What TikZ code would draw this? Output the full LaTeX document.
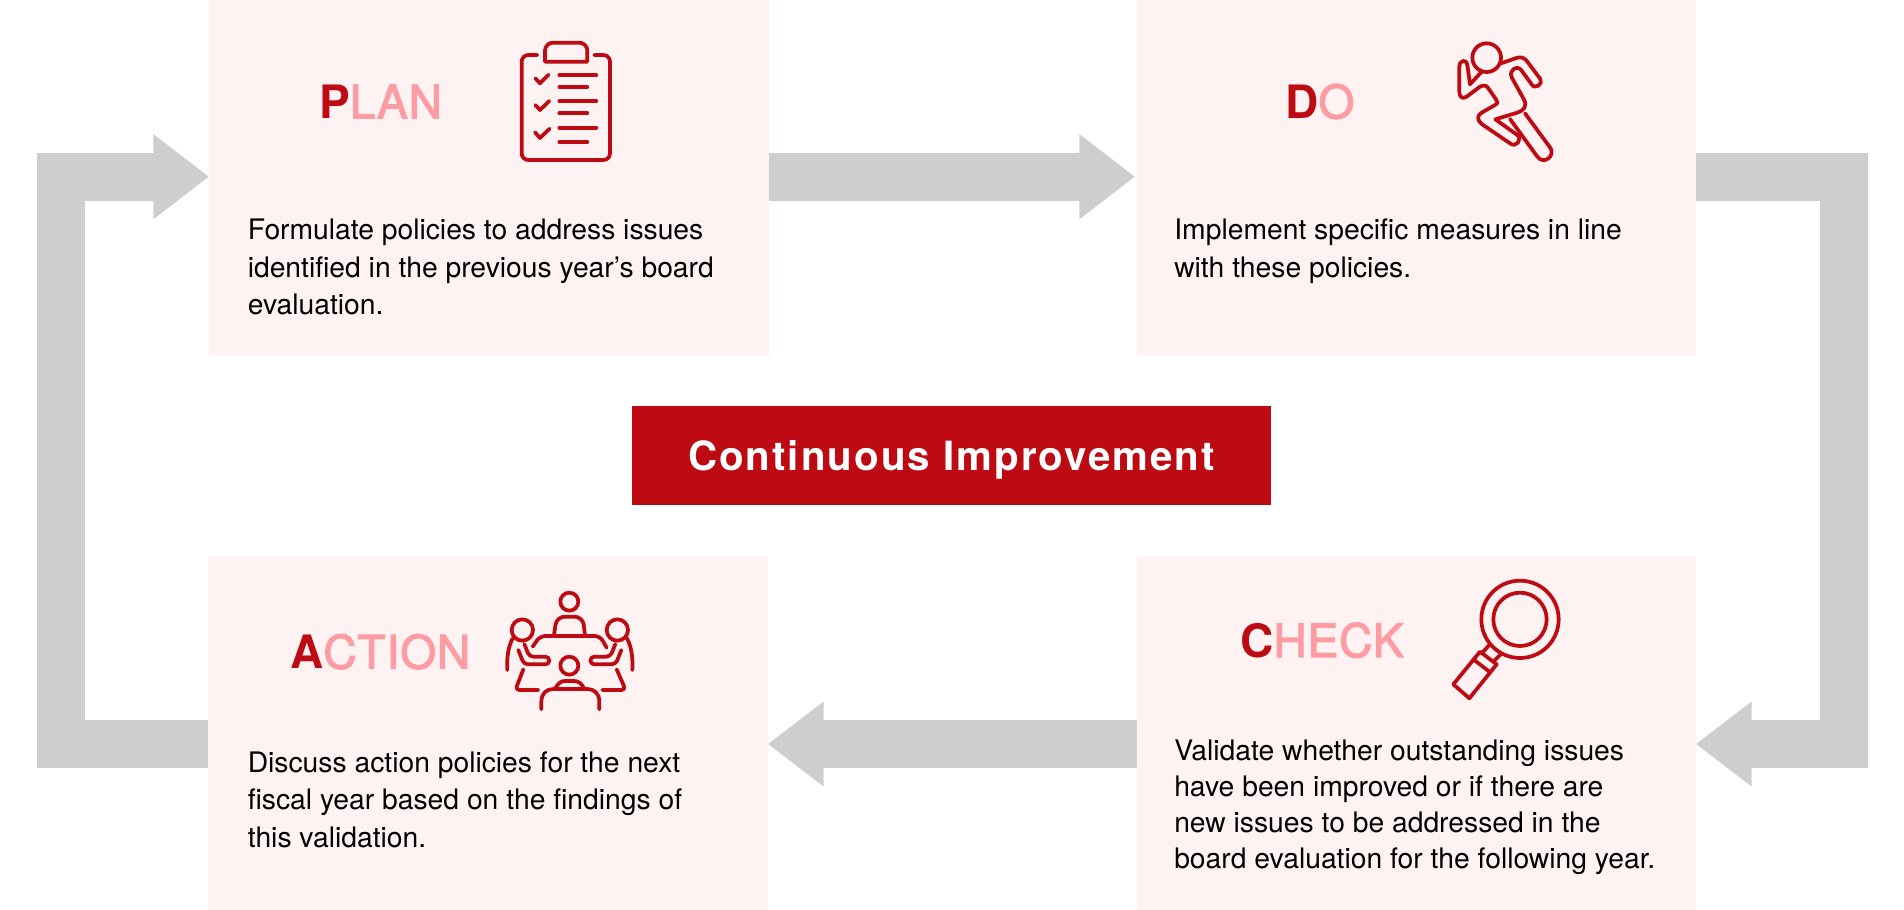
\documentclass[tikz,border=0pt]{standalone}
\usepackage{fontspec}
\setmainfont{TeX Gyre Heros}
\newfontfamily\cifont[LetterSpace=5]{TeX Gyre Heros}
\newfontfamily\titlefont[LetterSpace=2,FakeBold=2.5]{TeX Gyre Heros}
\usetikzlibrary{arrows.meta,calc}
\definecolor{boxpink}{HTML}{FFF2F2}
\definecolor{darkred}{HTML}{BE0A12}
\definecolor{palered}{HTML}{FE9CA3}
\definecolor{railgray}{HTML}{CECECE}
\newcommand{\firstletter}[1]{\textcolor{darkred}{\normalfont\bfseries #1}}
\tikzset{
  stagebox/.style={draw=none,fill=boxpink,rectangle,inner sep=0pt,minimum width=420pt},
  tophalf/.style={minimum height=267pt},
  bothalf/.style={minimum height=265.5pt},
  titletext/.style={anchor=base west,inner sep=0pt,font=\fontsize{34.5}{40}\selectfont\titlefont,text=palered},
  bodytext/.style={anchor=base west,inner sep=0pt,align=left,font=\fontsize{21.2}{28.1}\selectfont,text=black},
  rail/.style={draw=railgray,line width=35.8pt,line join=miter,-{Triangle[length=41.6pt,width=64pt,line width=0pt]},
    preaction={draw=railgray,line width=35.8pt,line join=miter,-,shorten >=34pt}},
  icon/.style={draw=darkred,line width=2.8pt,line cap=round,line join=round},
  iconzoom/.style={x=0.25pt,y=-0.25pt,icon}
}
\begin{document}
\begin{tikzpicture}[x=0.75pt,y=-0.75pt]
\useasboundingbox (0,0) rectangle (1904,910);
% stage boxes
\node[stagebox,tophalf] (plan) at (489,178) {};
\node[stagebox,tophalf,minimum width=419.25pt] (do) at (1416.5,178) {};
\node[stagebox,bothalf] (action) at (488,733) {};
\node[stagebox,bothalf,minimum width=419.25pt] (check) at (1416.5,733) {};
\node[fill=darkred,inner sep=0pt,minimum width=479.25pt,minimum height=74.25pt,text=white,text depth=0pt,font=\fontsize{30.2}{36}\selectfont\bfseries\cifont] (core) at (951.5,455.5) {Continuous Improvement};
% rails
\coordinate (topband) at (0,176.7);
\coordinate (botband) at (0,744);
\coordinate (railR) at (1844,0);
\coordinate (railL) at (61,0);
\draw[rail] (plan.east |- topband) -- ([xshift=-1.5pt]do.west |- topband);
\draw[rail] (do.east |- topband) -- (railR |- topband) -- (railR |- botband) -- (check.east |- botband);
\draw[rail] (check.west |- botband) -- (action.east |- botband);
\draw[rail] (action.west |- botband) -- (railL |- botband) -- (railL |- topband) -- (plan.west |- topband);
% titles
\node[titletext] (tplan) at (319,118.3) {\firstletter{P}LAN};
\node[titletext] (tdo) at (1285,118.3) {\firstletter{D}O};
\node[titletext] (tcheck) at (1240,657) {\firstletter{C}HECK};
\node[titletext] (taction) at (290,668.5) {\firstletter{A}CTION};
% body
\node[bodytext] (bplan) at (247.5,314.5) {Formulate policies to address issues\\identified in the previous year’s board\\evaluation.};
\node[bodytext] (bdo) at (1174,277) {Implement specific measures in line\\with these policies.};
\node[bodytext] (baction) at (247.5,847) {Discuss action policies for the next\\fiscal year based on the findings of\\this validation.};
\node[bodytext,font=\fontsize{21.2}{27}\selectfont] (bcheck) at (1174,868) {Validate whether outstanding issues\\have been improved or if there are\\new issues to be addressed in the\\board evaluation for the following year.};
% clipboard
\begin{scope}[shift={(480,20)},iconzoom]
\draw[rounded corners=5pt] (172,105) -- (125,105) -- (125,420) -- (390,420) -- (390,105) -- (343,105);
\draw (195,125) [rounded corners=6pt] -- (195,68) -- (322,68) [sharp corners] -- (322,125) -- cycle;
\foreach \y/\e in {166/349,201/322,244/349,280/322,323/349,367/322} \draw (238,\y) -- (\e,\y);
\draw (166,175) -- (180,190) -- (206,164);
\draw (166,255) -- (180,270) -- (208,243);
\draw (165,337) -- (180,354) -- (209,326);
\end{scope}
% runner
\begin{scope}[shift={(1430,20)},iconzoom]
\draw (170,113) circle[radius=43];
\draw (213,130) -- (262,113) .. controls (275,110) and (285,115) .. (292,125) -- (331,177) .. controls (340,192) and (315,210) .. (305,193) -- (272,148) .. controls (262,135) and (235,150) .. (245,172) -- (280,235) .. controls (295,260) and (280,272) .. (262,278) -- (196,298) -- (262,345) .. controls (278,358) and (258,385) .. (240,370) -- (155,312) .. controls (140,300) and (142,285) .. (155,278) -- (195,255) .. controls (205,250) and (203,245) .. (198,238) -- (175,205) .. controls (170,195) and (160,195) .. (150,200) -- (110,230) .. controls (95,240) and (88,228) .. (88,215) -- (88,140) .. controls (88,118) and (112,118) .. (112,135) -- (120,193) -- (155,155);
\draw (285,280) -- (362,385) .. controls (375,410) and (340,435) .. (322,410) -- (240,297);
\end{scope}
% meeting
\begin{scope}[shift={(490,575)},iconzoom]
\draw (238,80) circle[radius=27];
\draw (238,272) circle[radius=27];
\draw (97,165) circle[radius=32];
\draw (382,165) circle[radius=32];
\draw[rounded corners=6pt] (192,180) -- (200,125) -- (278,125) -- (285,180);
\draw[rounded corners=4pt] (128,215) -- (150,183) -- (330,183) -- (350,218);
\draw (68,190) .. controls (55,215) and (50,245) .. (52,285);
\draw (411,190) .. controls (424,215) and (429,245) .. (427,285);
\draw[rounded corners=3pt] (103,207) -- (118,245) -- (178,245) -- (178,268) -- (102,268) -- (85,225);
\draw[rounded corners=3pt] (376,207) -- (361,245) -- (301,245) -- (301,268) -- (377,268) -- (394,225);
\draw[rounded corners=3pt] (100,283) -- (76,345) -- (145,345);
\draw[rounded corners=3pt] (380,283) -- (407,345) -- (337,345);
\draw (195,342) .. controls (205,322) and (215,318) .. (225,318) -- (252,318) .. controls (265,318) and (275,325) .. (283,342);
\draw (154,403) -- (154,380) .. controls (154,355) and (170,342) .. (190,342) -- (292,342) .. controls (312,342) and (328,355) .. (328,380) -- (328,403);
\end{scope}
% magnifier
\begin{scope}[shift={(1430,565)},iconzoom]
\draw (270,163) circle[radius=116];
\draw (270,163) circle[radius=80];
\draw (178,240) -- (155,265);
\draw (212,268) -- (190,290);
\draw (150,260) -- (200,298) -- (118,400) -- (70,358) -- cycle;
\draw (130,283) -- (178,320);
\end{scope}
\end{tikzpicture}
\end{document}
